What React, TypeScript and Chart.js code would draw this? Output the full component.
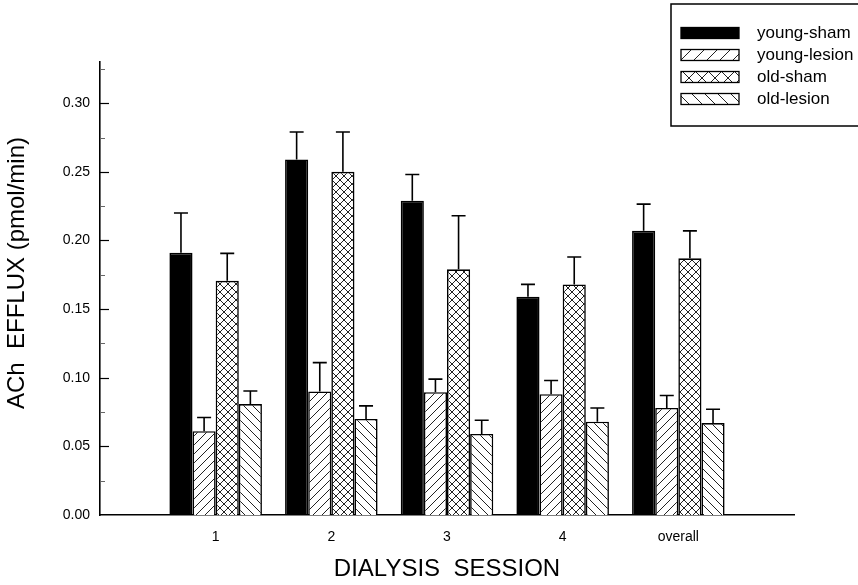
import React, { useEffect, useRef } from 'react';
import { Chart, registerables } from 'chart.js';

Chart.register(...registerables);

// ---- data ----
const categories = ['', '1', '2', '3', '4', 'overall', ''];
const seriesNames = ['young-sham', 'young-lesion', 'old-sham', 'old-lesion'];

const youngSham = [null, 0.191, 0.259, 0.229, 0.159, 0.207, null];
const youngShamSem = [null, 0.029, 0.020, 0.019, 0.009, 0.0195, null];

const youngLesion = [null, 0.061, 0.090, 0.0895, 0.088, 0.078, null];
const youngLesionSem = [null, 0.010, 0.021, 0.0095, 0.010, 0.009, null];

const oldSham = [null, 0.1706, 0.250, 0.179, 0.168, 0.187, null];
const oldShamSem = [null, 0.020, 0.029, 0.039, 0.020, 0.020, null];

const oldLesion = [null, 0.0808, 0.070, 0.059, 0.068, 0.067, null];
const oldLesionSem = [null, 0.0095, 0.0095, 0.010, 0.010, 0.010, null];

const seriesValues = [youngSham, youngLesion, oldSham, oldLesion];
const seriesSems = [youngShamSem, youngLesionSem, oldShamSem, oldLesionSem];
const seriesFills = ['solid', 'forward', 'cross', 'back'];

const yTitle = 'ACh  EFFLUX (pmol/min)';
const xTitle = 'DIALYSIS  SESSION';

const yMin = 0;
const yMax = 0.33;
const yStep = 0.05;
const yMinorStep = 0.025;

const FONT = '"Liberation Sans", Arial, Helvetica, sans-serif';

function makePattern(kind: string, size: number): CanvasPattern | string {
  if (kind === 'solid') return '#000';
  const c = document.createElement('canvas');
  c.width = size;
  c.height = size;
  const g = c.getContext('2d')!;
  g.fillStyle = '#fff';
  g.fillRect(0, 0, size, size);
  g.strokeStyle = '#222';
  g.lineWidth = 1;
  const fwd = () => {
    for (const k of [-size, 0, size]) {
      g.beginPath();
      g.moveTo(k, size);
      g.lineTo(k + size, 0);
      g.stroke();
    }
  };
  const back = () => {
    for (const k of [-size, 0, size]) {
      g.beginPath();
      g.moveTo(k, 0);
      g.lineTo(k + size, size);
      g.stroke();
    }
  };
  if (kind === 'forward') fwd();
  if (kind === 'back') back();
  if (kind === 'cross') {
    fwd();
    back();
  }
  return g.createPattern(c, 'repeat')!;
}

const errorBarPlugin = {
  id: 'errorBars',
  afterDatasetsDraw(chart: any) {
    const ctx = chart.ctx;
    const yScale = chart.scales.y;
    ctx.save();
    ctx.strokeStyle = '#000';
    ctx.lineWidth = 1.6;
    chart.data.datasets.forEach((ds: any, di: number) => {
      const meta = chart.getDatasetMeta(di);
      const sems = seriesSems[di];
      meta.data.forEach((el: any, i: number) => {
        const v = ds.data[i];
        const s = sems[i];
        if (v == null || s == null) return;
        const x = el.x;
        const yTop = yScale.getPixelForValue(v);
        const yErr = yScale.getPixelForValue(v + s);
        ctx.beginPath();
        ctx.moveTo(x, yTop);
        ctx.lineTo(x, yErr);
        ctx.moveTo(x - 7, yErr);
        ctx.lineTo(x + 7, yErr);
        ctx.stroke();
      });
    });
    ctx.restore();
  },
};

const innerTicksPlugin = {
  id: 'innerTicks',
  afterDraw(chart: any) {
    const ctx = chart.ctx;
    const yScale = chart.scales.y;
    const left = chart.chartArea.left;
    ctx.save();
    const n = Math.round((yMax - yMin) / yMinorStep);
    for (let k = 1; k <= n; k++) {
      const v = yMin + k * yMinorStep;
      if (v > yMax) break;
      const major = k % Math.round(yStep / yMinorStep) === 0;
      const y = Math.round(yScale.getPixelForValue(v)) + 0.5;
      ctx.strokeStyle = major ? '#000' : '#666';
      ctx.lineWidth = major ? 1.2 : 1;
      ctx.beginPath();
      ctx.moveTo(left, y);
      ctx.lineTo(left + (major ? 9 : 5), y);
      ctx.stroke();
    }
    // y axis title
    ctx.translate(17, 273);
    ctx.rotate(-Math.PI / 2);
    ctx.fillStyle = '#000';
    ctx.font = `24px ${FONT}`;
    ctx.textAlign = 'center';
    ctx.textBaseline = 'middle';
    ctx.fillText(yTitle, 0, 0);
    ctx.restore();
  },
};

const legendBoxPlugin = {
  id: 'legendBox',
  afterDraw(chart: any) {
    const ctx = chart.ctx;
    ctx.save();
    ctx.strokeStyle = '#000';
    ctx.lineWidth = 1.5;
    ctx.strokeRect(671, 4, 220, 122);
    const rowY = [33, 55, 77, 99];
    chart.data.datasets.forEach((ds: any, di: number) => {
      const y = rowY[di];
      const fill = makePattern(seriesFills[di], 13);
      ctx.fillStyle = fill as any;
      ctx.fillRect(681, y - 5.5, 58, 11);
      ctx.lineWidth = 1.3;
      ctx.strokeStyle = '#000';
      ctx.strokeRect(681, y - 5.5, 58, 11);
      ctx.fillStyle = '#000';
      ctx.font = `17px ${FONT}`;
      ctx.textAlign = 'left';
      ctx.textBaseline = 'middle';
      ctx.fillText(ds.label, 757, y);
    });
    ctx.restore();
  },
};

export default function App() {
  const ref = useRef<HTMLCanvasElement | null>(null);

  useEffect(() => {
    if (!ref.current) return;
    const datasets = seriesNames.map((name, i) => ({
      label: name,
      data: seriesValues[i],
      backgroundColor: makePattern(seriesFills[i], i === 2 ? 8 : 9) as any,
      borderColor: '#000',
      borderWidth: 1.6,
      barPercentage: 1,
      categoryPercentage: 0.8,
    }));
    const chart = new Chart(ref.current, {
      type: 'bar',
      data: { labels: categories, datasets },
      options: {
        animation: false,
        responsive: false,
        maintainAspectRatio: false,
        layout: { padding: { top: 62, right: 64, left: 0, bottom: 0 } },
        plugins: {
          legend: { display: false },
          tooltip: { enabled: false },
        },
        scales: {
          x: {
            type: 'category',
            offset: false,
            grid: { display: false, drawTicks: false },
            border: { display: true, color: '#000', width: 1.6 },
            ticks: {
              color: '#000',
              font: { family: FONT, size: 14 },
              padding: 14,
              maxRotation: 0,
              autoSkip: false,
            },
            title: {
              display: true,
              text: xTitle,
              color: '#000',
              font: { family: FONT, size: 24 },
              padding: { top: 0, bottom: 1 },
            },
            afterFit: (s: any) => {
              s.height = 70;
            },
          },
          y: {
            min: yMin,
            max: yMax,
            grid: { display: false, drawTicks: false },
            border: { display: true, color: '#000', width: 1.6 },
            ticks: {
              stepSize: yStep,
              includeBounds: false,
              color: '#000',
              font: { family: FONT, size: 14 },
              padding: 10,
              callback: (v: any) => Number(v).toFixed(2),
            },
            title: { display: false },
            afterFit: (s: any) => {
              s.width = 100;
            },
          },
        },
      },
      plugins: [errorBarPlugin, innerTicksPlugin, legendBoxPlugin],
    });
    return () => chart.destroy();
  }, []);

  return (
    <div style={{ position: 'fixed', left: 0, top: 0, width: 858, height: 585, background: '#fff' }}>
      <canvas ref={ref} width={858} height={585} style={{ display: 'block' }} />
    </div>
  );
}
